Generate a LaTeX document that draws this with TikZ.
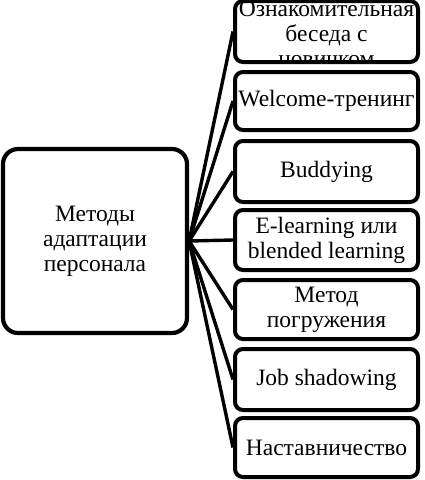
\documentclass[tikz,border=0pt]{standalone}
\usepackage{fontspec}
\setmainfont{Liberation Serif}
\begin{document}
\begin{tikzpicture}[x=1pt,y=-1pt,
  txt/.style={font=\fontsize{23.5}{25}\selectfont, align=center},
  mbox/.style={draw, line width=4pt, rounded corners=8pt, minimum width=183pt, inner sep=0pt, txt},
  mainbox/.style={draw, line width=4.2pt, rounded corners=15pt, minimum width=184pt, minimum height=184pt, inner sep=0pt, txt},
  conn/.style={line width=3.4pt}]
\useasboundingbox (0,0) rectangle (425,480);
\node[mainbox] (main) at (95,241) {Методы\\адаптации\\персонала};
\node[mbox, minimum height=61pt] (b1) at (326.5,31.5) {};
\begin{scope}
  \clip ([xshift=2pt,yshift=-2pt]b1.north west) rectangle ([xshift=-2pt,yshift=2pt]b1.south east);
  \node[txt, inner sep=0pt] (t1) at (326.5,34) {Ознакомительная\\беседа с\\новичком};
\end{scope}
\node[mbox, minimum height=58pt] (b2) at (326.5,101) {Welcome-тренинг};
\node[mbox, minimum height=61pt] (b3) at (326.5,171.5) {Buddying};
\node[mbox, minimum height=60pt] (b4) at (326.5,240) {E-learning или\\blended learning};
\node[mbox, minimum height=59pt] (b5) at (326.5,309.5) {Метод\\погружения};
\node[mbox, minimum height=61pt] (b6) at (326.5,379.5) {Job shadowing};
\node[mbox, minimum height=59pt] (b7) at (326.5,447.5) {Наставничество};
\foreach \b in {b1,b2,b3,b4,b5,b6,b7}
  \draw[conn] (main.east) -- (\b.west);
\end{tikzpicture}
\end{document}
